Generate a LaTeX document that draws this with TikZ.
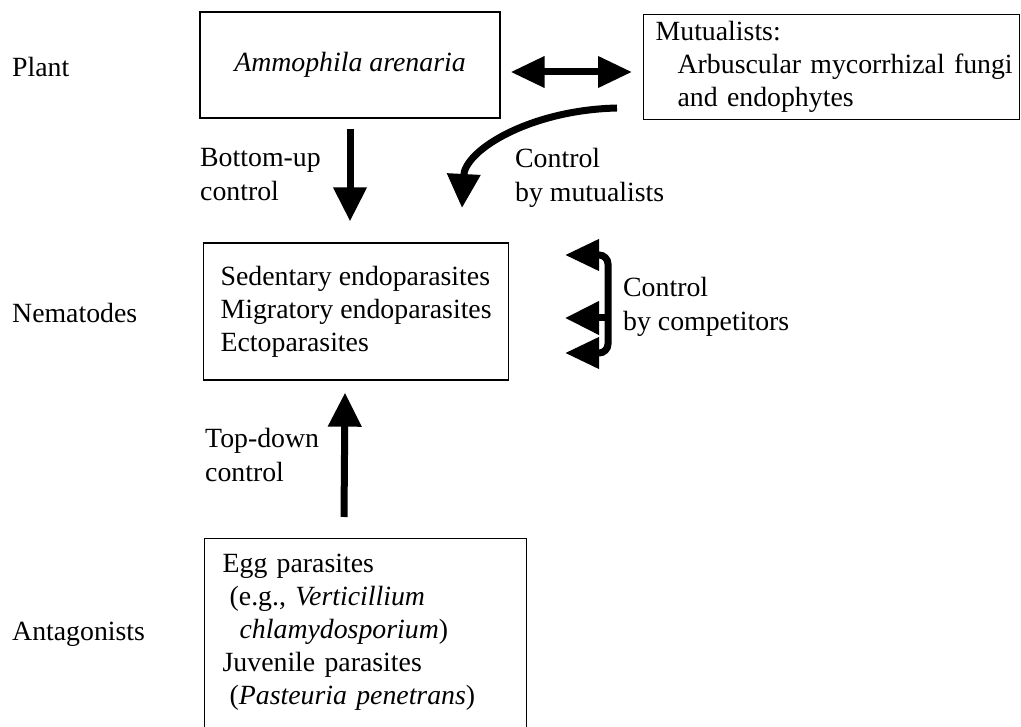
\documentclass[tikz,border=0pt]{standalone}
\usepackage{fontspec}
\setmainfont{Liberation Serif}
\usetikzlibrary{arrows.meta,calc}
\tikzset{
	lbl/.style={font=\fontsize{27.8pt}{34pt}\selectfont, inner sep=0pt, align=left},
	box/.style={draw, line width=1.3pt, font=\fontsize{27.8pt}{33pt}\selectfont, align=left},
	fat/.style={line width=7pt, -{Triangle[length=34pt,width=32pt]}},
	fatboth/.style={line width=7pt, {Triangle[length=34pt,width=30pt]}-{Triangle[length=34pt,width=30pt]}},
}

\begin{document}
\begin{tikzpicture}[x=1pt, y=-1pt]
			%%%%% START %%%%%
			\useasboundingbox (0,0) rectangle (1021,727);
			
			% row labels
			\node[lbl, anchor=base west] (plantlbl) at (12,77) {Plant};
			\node[lbl, anchor=base west] (nemlbl) at (12,323) {Nematodes};
			\node[lbl, anchor=base west] (antlbl) at (12,640) {Antagonists};
			
			% boxes
			\node[box, align=center, minimum width=300pt, minimum height=106pt] (plant) at (350,65) {\textit{Ammophila arenaria}};
			\node[box, anchor=north west, inner xsep=12pt, text width=352pt, minimum height=105pt] (mut) at (643,14) {Mutualists:\\\hspace*{22pt}\mbox{Arbuscular mycorrhizal fungi}\\\hspace*{22pt}and endophytes};
			\node[box, anchor=west, inner xsep=17pt, minimum height=137pt] (nem) at (203,311.5) {Sedentary endoparasites\\Migratory endoparasites\\Ectoparasites};
			\node[box, anchor=north west, inner xsep=18pt, inner ysep=15pt, text width=286pt] (antag) at (204,538) {Egg parasites\\\hspace*{7pt}(e.g., \textit{Verticillium}\\\hspace*{17pt}\textit{chlamydosporium})\\Juvenile parasites\\\hspace*{7pt}(\textit{Pasteuria penetrans})\rule[-40pt]{0pt}{0pt}};
			
			% arrow labels (base = last line)
			\node[lbl, anchor=base west] (bulbl) at (200,201) {Bottom-up\\control};
			\node[lbl, anchor=base west] (mutlbl) at (515,202) {Control\\by mutualists};
			\node[lbl, anchor=base west] (complbl) at (623,331) {Control\\by competitors};
			\node[lbl, anchor=base west] (tdlbl) at (205,482) {Top-down\\control};
			
			% plant <-> mutualists
			\draw[fatboth] ($(plant.east)+(10,7)$) -- ($(mut.west |- plant.east)+(-11,7)$);
			
			% bottom-up
			\draw[fat, shorten <=10pt, shorten >=21pt] (plant.south) -- (plant.south |- nem.north);
			
			% control by mutualists
			\coordinate (mutout) at ($(mut.north west)+(-26,94)$);
			\coordinate (mutin) at (462,208);
			\draw[fat] (mutout) .. controls (530,110) and (465,150) .. (mutin);
			
			% control by competitors
			\coordinate (ctop) at (565,255);
			\coordinate (cmid) at (565,318);
			\coordinate (cbot) at (565,353);
			\coordinate (brtop) at (608,255);
			\coordinate (brmid) at (608,318);
			\coordinate (brbot) at (608,353);
			\draw[fatboth, rounded corners=9pt] (ctop) -- (brtop) -- (brbot) -- (cbot);
			\draw[fat] (brmid) -- (cmid);
			
			% top-down
			\draw[fat] ($(antag.north west)+(140,-21)$) -- ($(nem.south west)+(142,12)$);
			
			%%%%% END %%%%%
\end{tikzpicture}
\end{document}
